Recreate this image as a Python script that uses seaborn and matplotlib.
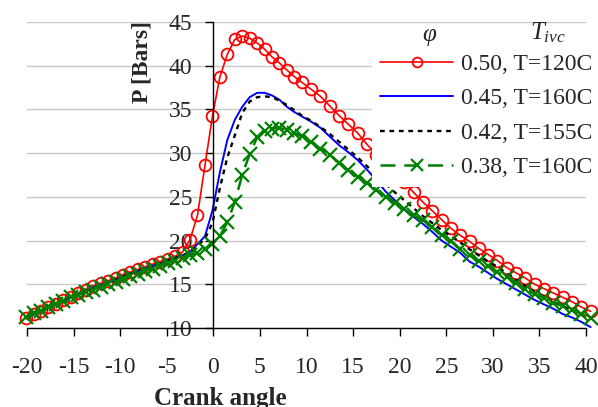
import matplotlib
matplotlib.use("Agg")
import matplotlib.pyplot as plt
import seaborn as sns

# ---------------- data ----------------
angle = [-20.1, -19.3, -18.5, -17.7, -16.9, -16.1, -15.3, -14.5, -13.7, -12.9,
         -12.1, -11.3, -10.5, -9.7, -8.9, -8.1, -7.3, -6.5, -5.7, -4.9,
         -4.1, -3.3, -2.5, -1.7, -0.9, -0.1, 0.7, 1.5, 2.3, 3.1,
         3.9, 4.7, 5.5, 6.3, 7.1, 7.9, 8.7, 9.5,
         10.5, 11.5, 12.5, 13.5, 14.5, 15.5, 16.5, 17.5, 18.5, 19.5,
         20.5, 21.5, 22.5, 23.5, 24.5, 25.5, 26.5, 27.5, 28.5, 29.5,
         30.5, 31.5, 32.5, 33.5, 34.5, 35.5, 36.5, 37.5, 38.5, 39.5, 40.5]

p_050 = [11.2, 11.6, 12.0, 12.4, 12.8, 13.2, 13.6, 14.0, 14.4, 14.8,
         15.1, 15.4, 15.7, 16.1, 16.4, 16.7, 17.0, 17.3, 17.6, 17.9,
         18.2, 18.7, 20.1, 22.9, 28.6, 34.2, 38.7, 41.3, 43.0, 43.4,
         43.15, 42.6, 41.9, 41.0, 40.3, 39.5, 38.75, 38.1,
         37.3, 36.5, 35.4, 34.3, 33.3, 32.3, 31.0, 29.8, 28.7, 27.6,
         26.7, 25.5, 24.4, 23.4, 22.4, 21.4, 20.6, 19.9, 19.1, 18.4,
         17.7, 16.9, 16.3, 15.7, 15.0, 14.5, 14.0, 13.5, 13.0, 12.4, 11.9]

p_045 = [11.1, 11.5, 11.9, 12.3, 12.7, 13.1, 13.5, 13.9, 14.2, 14.6,
         14.9, 15.2, 15.5, 15.9, 16.2, 16.5, 16.8, 17.1, 17.4, 17.7,
         18.0, 18.3, 18.7, 19.6, 20.5, 23.4, 27.8, 31.5, 33.8, 35.3,
         36.4, 36.9, 36.9, 36.6, 36.1, 35.3, 34.7, 34.2,
         33.6, 32.9, 31.9, 30.9, 30.1, 29.2, 28.1, 26.9, 25.6, 24.6,
         23.6, 22.7, 21.9, 21.0, 20.0, 19.3, 18.6, 17.6, 17.0, 16.3,
         15.6, 15.0, 14.4, 13.8, 13.2, 12.7, 12.2, 11.6, 11.2, 10.7, 10.1]

p_042 = [11.1, 11.5, 11.9, 12.3, 12.7, 13.1, 13.5, 13.9, 14.2, 14.6,
         14.9, 15.2, 15.5, 15.9, 16.2, 16.5, 16.8, 17.1, 17.4, 17.7,
         18.0, 18.3, 18.7, 19.4, 20.2, 22.0, 26.0, 29.5, 32.0, 34.6,
         35.9, 36.4, 36.5, 36.4, 36.0, 35.5, 34.9, 34.3,
         33.7, 33.0, 32.2, 31.3, 30.4, 29.5, 28.5, 27.5, 26.5, 25.5,
         24.6, 23.7, 22.8, 22.0, 21.2, 20.5, 19.8, 19.0, 18.3, 17.6,
         17.0, 16.2, 15.5, 14.8, 14.1, 13.6, 13.0, 12.5, 12.0, 11.5, 11.0]

p_038 = [11.3, 11.7, 12.0, 12.4, 12.7, 13.1, 13.5, 13.8, 14.1, 14.4,
         14.7, 15.0, 15.3, 15.6, 15.9, 16.2, 16.5, 16.8, 17.1, 17.4,
         17.7, 18.0, 18.3, 18.6, 19.0, 19.6, 20.5, 22.1, 24.4, 27.5,
         29.9, 31.8, 32.5, 32.8, 32.9, 32.6, 32.3, 31.95,
         31.3, 30.5, 29.8, 28.9, 28.1, 27.3, 26.6, 25.8, 25.0, 24.3,
         23.6, 22.9, 22.3, 21.5, 20.6, 19.9, 19.0, 18.3, 17.7, 17.1,
         16.4, 15.8, 15.1, 14.5, 13.9, 13.4, 12.9, 12.5, 12.1, 11.6, 11.1]

labels = ["0.50, T=120C", "0.45, T=160C", "0.42, T=155C", "0.38, T=160C"]
x_ticks = [-20, -15, -10, -5, 0, 5, 10, 15, 20, 25, 30, 35, 40]
y_ticks = [10, 15, 20, 25, 30, 35, 40, 45]

# ---------------- style ----------------
sns.set_theme(style="white")
plt.rcParams["font.family"] = ["Liberation Serif", "DejaVu Serif"]
plt.rcParams["mathtext.fontset"] = "custom"
plt.rcParams["mathtext.it"] = "Liberation Serif:italic"
plt.rcParams["mathtext.rm"] = "Liberation Serif"

fig = plt.figure(figsize=(5.98, 4.07), dpi=100)
ax = fig.add_axes([27 / 598, 1 - 328 / 407, (586 - 27) / 598, (328 - 22) / 407])

common = dict(ax=ax, estimator=None, sort=False, clip_on=False)
sns.lineplot(x=angle, y=p_050, color="#ff0000", lw=1.2, marker="o",
             label=labels[0], **common)
red_line = ax.lines[-1]
red_line.set_markersize(8.5)
red_line.set_markerfacecolor("none")
red_line.set_markeredgecolor("#ff0000")
red_line.set_markeredgewidth(1.3)

sns.lineplot(x=angle, y=p_045, color="#0000ff", lw=1.4, label=labels[1], **common)
sns.lineplot(x=angle, y=p_042, color="black", lw=1.7, label=labels[2], **common)
ax.lines[-1].set_dashes([2.0, 2.0])

sns.lineplot(x=angle, y=p_038, color="#008000", lw=1.8, marker="x",
             label=labels[3], **common)
green_line = ax.lines[-1]
green_line.set_dashes([6.0, 3.5])
green_line.set_markersize(9.5)
green_line.set_markeredgecolor("#008000")
green_line.set_markeredgewidth(1.6)

ax.set_xlim(-20, 40)
ax.set_ylim(10, 45)
ax.set_xticks(x_ticks)
ax.set_yticks(y_ticks)
ax.set_xticklabels([str(v) for v in x_ticks])
ax.set_yticklabels([str(v) for v in y_ticks])

for s in ["top", "right"]:
    ax.spines[s].set_visible(False)
ax.spines["left"].set_position(("data", 0))
ax.spines["left"].set_color("black")
ax.spines["bottom"].set_color("black")
ax.spines["left"].set_linewidth(1.0)
ax.spines["bottom"].set_linewidth(1.0)

ax.yaxis.grid(True, color="#c8c8c8", lw=1.0)
ax.xaxis.grid(False)
ax.set_axisbelow(True)

ax.tick_params(axis="x", direction="out", length=6, width=1, color="black",
               labelsize=17, pad=15, bottom=True)
ax.tick_params(axis="y", direction="out", length=6, width=1, color="black",
               labelsize=17, pad=9, left=True)

ax.set_xlabel("")
ax.set_ylabel("")
fig.text(220 / 598, 1 - 405 / 407, "Crank angle", ha="center", va="baseline",
         fontsize=18, fontweight="bold")
fig.text(142 / 598, 1 - 62 / 407, "P [Bars]", ha="center", va="center",
         rotation=90, fontsize=17, fontweight="bold")

h, l = ax.get_legend_handles_labels()
leg = ax.legend(h, l, loc="upper left", bbox_to_anchor=(372 / 598, 1 - 45 / 407),
                bbox_transform=fig.transFigure, fontsize=17, frameon=True,
                facecolor="white", edgecolor="none", framealpha=1.0,
                handlelength=3.1, handletextpad=0.3, labelspacing=0.55,
                borderpad=0.35, borderaxespad=0.0, fancybox=False)
leg_lines = leg.get_lines()
leg_lines[0].set_markersize(7.0)
leg_lines[0].set_markerfacecolor("none")
leg_lines[0].set_markeredgewidth(1.3)
leg_lines[3].set_markersize(9.0)
leg_lines[3].set_markeredgewidth(1.6)

fig.text(429 / 598, 1 - 35 / 407, "φ", ha="center", va="center", fontsize=18,
         fontstyle="italic", zorder=10)
fig.text(548 / 598, 1 - 33 / 407, r"$T_{ivc}$", ha="center", va="center",
         fontsize=18, zorder=10)

fig.savefig("out.png", dpi=100)
